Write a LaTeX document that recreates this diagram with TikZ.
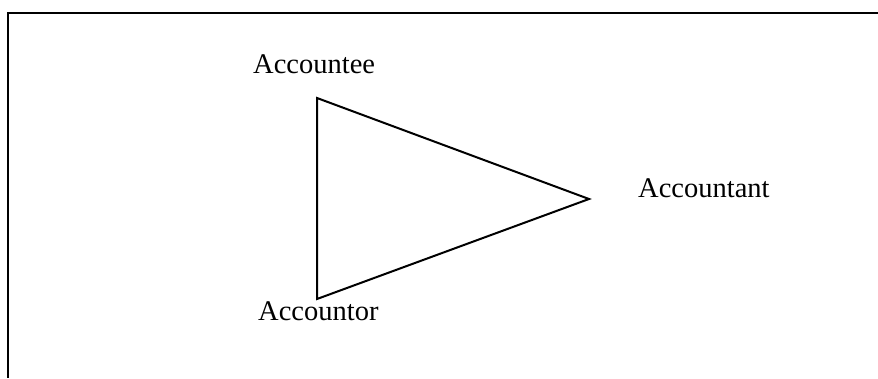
\documentclass[tikz,border=0pt]{standalone}
\usepackage{fontspec}
\setmainfont{Liberation Serif}
\begin{document}
\begin{tikzpicture}[x=1pt,y=-1pt]
\tikzset{role/.style={anchor=base west, inner sep=0pt, font=\fontsize{28.5}{34}\selectfont}}
\useasboundingbox (0,0) rectangle (878,378);

% frame (top and left only)
\draw[line width=2pt] (878,12.5) -- (8,12.5) -- (8,378);

% corners of the triangle
\coordinate (top) at (317,98);
\coordinate (bot) at (317,299);
\coordinate (tip) at (589,199);
\draw[line width=2pt, line join=miter] (top) -- (tip) -- (bot) -- cycle;

% labels
\node[role] (accountee) at (253,73) {Accountee};
\node[role] (accountor) at (258,320) {Accountor};
\node[role] (accountant) at (638,197) {Accountant};
\end{tikzpicture}
\end{document}
